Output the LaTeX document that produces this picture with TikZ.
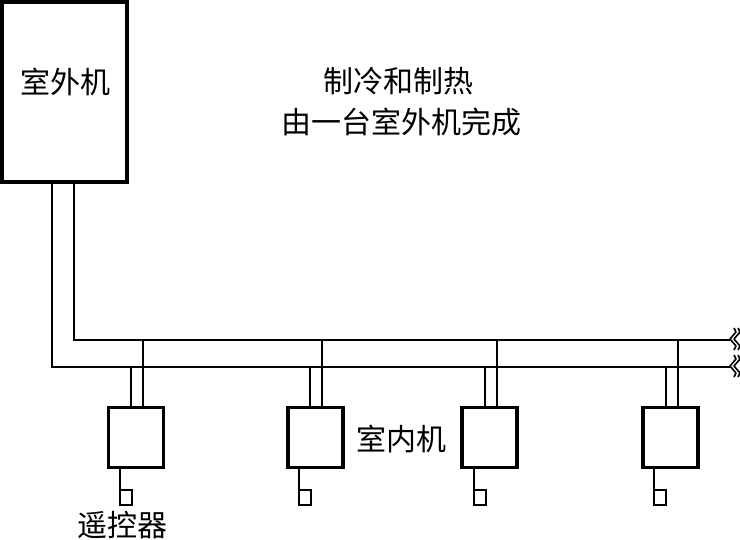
\documentclass[tikz,border=0pt]{standalone}
\usepackage{fontspec}
\setmainfont{Noto Sans CJK SC}
\tikzset{
  x=1pt,y=-1pt,
  pipe/.style={line width=2.2pt,line join=miter},
  outdoor/.style={draw,line width=4pt,minimum width=125pt,minimum height=180pt,inner sep=0pt,outer sep=0pt},
  indoor/.style={draw,line width=3.6pt,minimum width=55pt,minimum height=60pt,inner sep=0pt,outer sep=0pt},
  remote/.style={draw,line width=2pt,minimum width=12pt,minimum height=15.500pt,inner sep=0pt,outer sep=0pt},
  label/.style={font=\fontsize{30}{34}\selectfont,inner sep=0pt},
  breakmark/.style={line width=1.6pt,line join=round}
}
\begin{document}
\begin{tikzpicture}
\useasboundingbox (0,0) rectangle (740,539);
\fill[white] (0,0) rectangle (740,539);
\node[outdoor] (out) at (64.500,92) {};
\node[label] (outl) at (65,82) {室外机};
\node[label] (t1) at (398.500,81) {制冷和制热};
\node[label] (t2) at (401.500,122) {由一台室外机完成};
\node[label] (inl) at (401,439) {室内机};
\node[label] (rl) at (122.500,525) {遥控器};
\foreach \n/\cx in {1/136,2/315.500,3/489.500,4/670.500}{
  \node[indoor] (i\n) at (\cx,437.500) {};
}
\foreach \n/\rx in {1/126,2/305,3/479.500,4/660}{
  \node[remote] (r\n) at (\rx,497.500) {};
}
\coordinate (upperEnd) at (730,340);
\coordinate (lowerEnd) at (730,367);
\coordinate (upperStart) at (74,182);
\coordinate (lowerStart) at (52,182);
\draw[pipe] (upperStart) -- (upperStart |- upperEnd) -- (upperEnd);
\draw[pipe] (lowerStart) -- (lowerStart |- lowerEnd) -- (lowerEnd);
\foreach \n/\xa/\xb in {1/131/143,2/310/322,3/485/497,4/666/678}{
  \coordinate (a\n) at (\xa,367);
  \coordinate (b\n) at (\xb,340);
  \draw[pipe] (a\n) -- (a\n |- i\n.north);
  \draw[pipe] (b\n) -- (b\n |- i\n.north);
}
\foreach \n/\sx in {1/120,2/299,3/473.500,4/654}{
  \coordinate (s\n) at (\sx,468);
  \draw[line width=2pt] (s\n) -- (s\n |- r\n.north);
}
\foreach \y in {339,366}{
  \draw[breakmark] (734,\y-11) -- (736,\y-7) -- (730,\y) -- (736,\y+7) -- (734,\y+11);
  \draw[breakmark] (738,\y-11) -- (740,\y-7) -- (734,\y) -- (740,\y+7) -- (738,\y+11);
}
\end{tikzpicture}
\end{document}
